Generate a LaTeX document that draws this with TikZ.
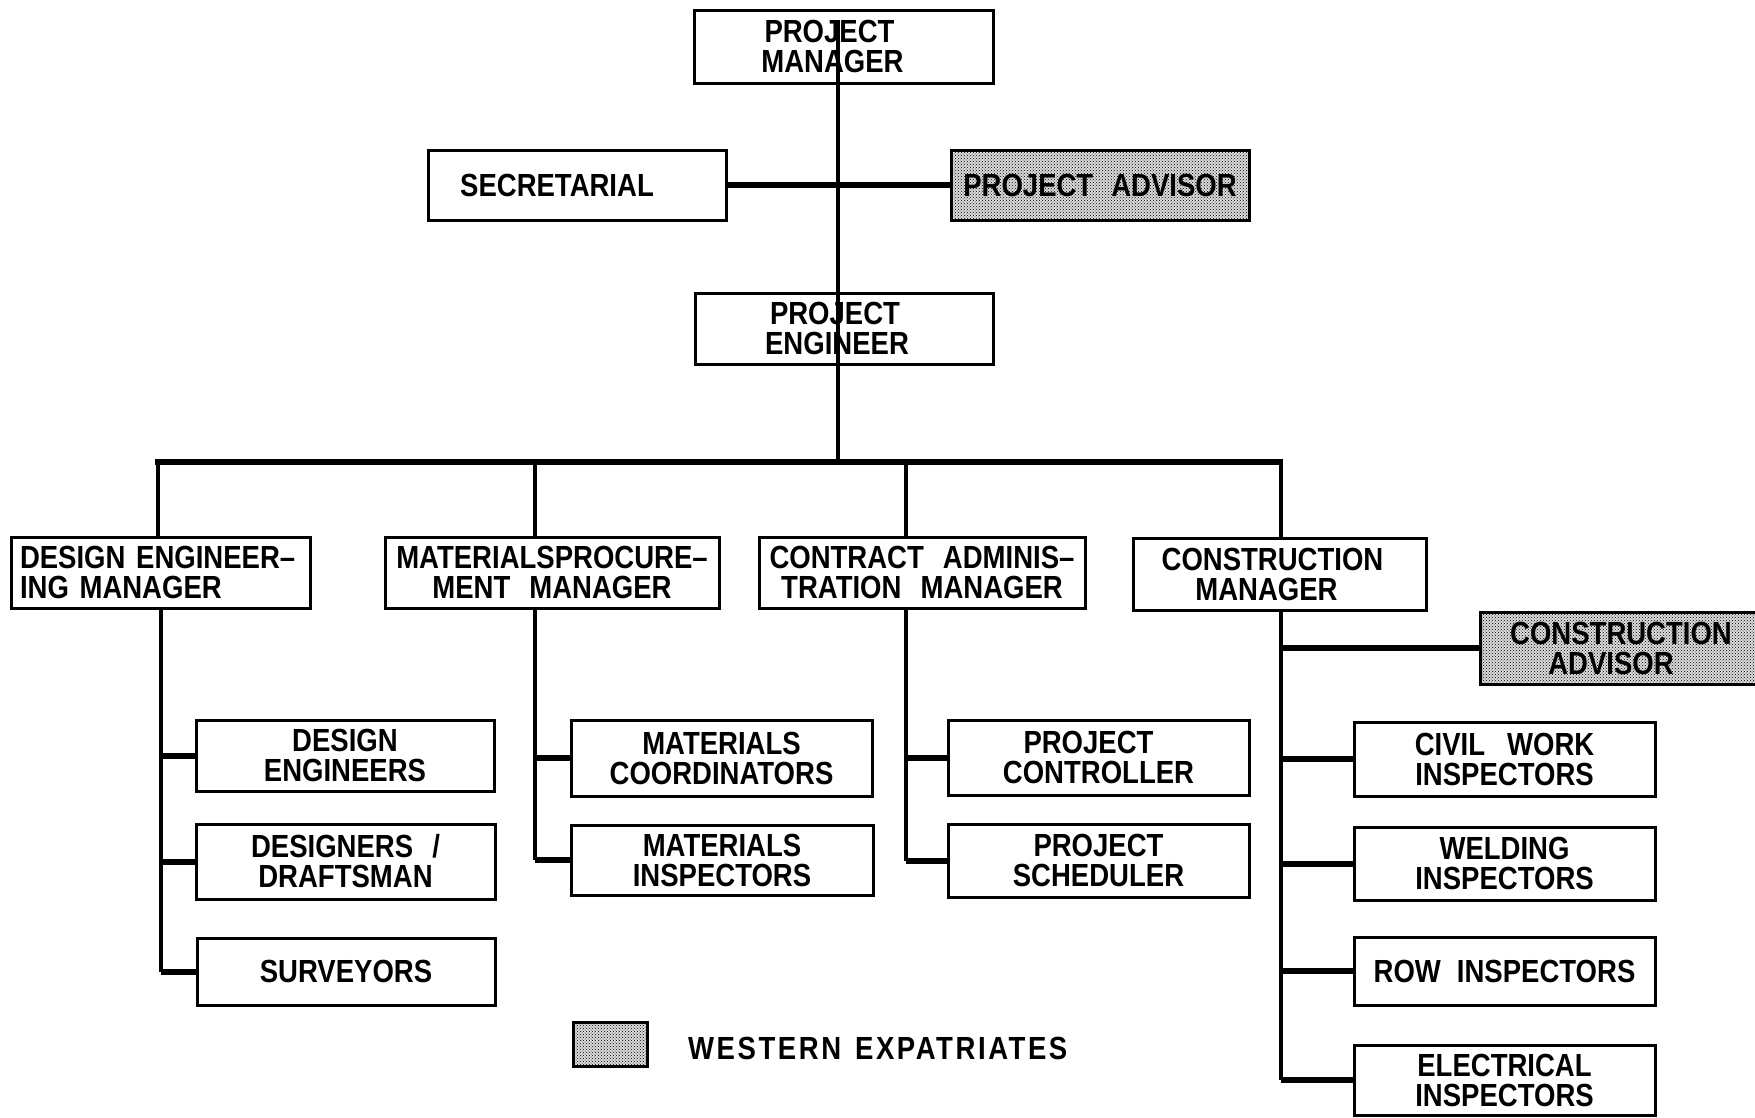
\documentclass[tikz,border=0pt]{standalone}
\usepackage{fontspec}
\setmainfont{Liberation Sans}[FakeStretch=0.86,WordSpace=2.5]
\usetikzlibrary{patterns}
\tikzset{
  box/.style={draw, line width=3pt, inner sep=0pt, align=center,
    font=\bfseries\fontsize{32}{30}\selectfont},
  advbox/.style={box, preaction={fill=gray!28}, pattern=crosshatch dots, pattern color=black},
  link/.style={line width=4pt},
  stub/.style={line width=6pt},
}
\begin{document}
\begin{tikzpicture}[x=1pt,y=-1pt]
\useasboundingbox (0,0) rectangle (1755,1117);
% top
\node[box, minimum width=299pt, minimum height=73pt] (pm) at (843.5,46.5) {PROJECT\hspace*{28pt}\\MANAGER\hspace*{22pt}};
\node[box, minimum width=298pt, minimum height=70pt] (sec) at (577,185) {SECRETARIAL\hspace*{40pt}};
\node[advbox, minimum width=298pt, minimum height=70pt] (adv) at (1100,185) {PROJECT\hspace{18pt}ADVISOR};
\node[box, minimum width=298pt, minimum height=71pt] (pe) at (844,328.5) {PROJECT\hspace*{18pt}\\ENGINEER\hspace*{14pt}};
% managers
\node[box, minimum width=299pt, minimum height=71pt, align=left, text width=281pt] (dem) at (160.5,572.5) {DESIGN ENGINEER--\\ING MANAGER};
\node[box, minimum width=334pt, minimum height=71pt] (mpm) at (552,572.5) {MATERIALSPROCURE--\\MENT MANAGER};
\node[box, minimum width=326pt, minimum height=71pt] (cam) at (922,572.5) {CONTRACT ADMINIS--\\TRATION MANAGER};
\node[box, minimum width=293pt, minimum height=72pt] (cm) at (1279.5,574) {CONSTRUCTION\hspace*{14pt}\\MANAGER\hspace*{26pt}};
\node[advbox, minimum width=282pt, minimum height=72pt] (ca) at (1621,648) {CONSTRUCTION\\ADVISOR\hspace*{20pt}};
% design
\node[box, minimum width=298pt, minimum height=71pt] (de) at (345,755.5) {DESIGN\\ENGINEERS};
\node[box, minimum width=299pt, minimum height=75pt] (dd) at (345.5,861.5) {DESIGNERS /\\DRAFTSMAN};
\node[box, minimum width=298pt, minimum height=67pt] (sv) at (346,971.5) {SURVEYORS};
% materials
\node[box, minimum width=301pt, minimum height=76pt] (mc) at (721.5,758) {MATERIALS\\COORDINATORS};
\node[box, minimum width=302pt, minimum height=70pt] (mi) at (722,860) {MATERIALS\\INSPECTORS};
% contract
\node[box, minimum width=301pt, minimum height=75pt] (pc) at (1098.5,757.5) {PROJECT\hspace*{20pt}\\CONTROLLER};
\node[box, minimum width=301pt, minimum height=73pt] (ps) at (1098.5,860.5) {PROJECT\\SCHEDULER};
% construction
\node[box, minimum width=301pt, minimum height=74pt] (cw) at (1504.5,759) {CIVIL\hspace{22pt}WORK\\INSPECTORS};
\node[box, minimum width=301pt, minimum height=73pt] (wi) at (1504.5,863.5) {WELDING\\INSPECTORS};
\node[box, minimum width=301pt, minimum height=68pt] (ri) at (1504.5,971) {ROW\hspace{16pt}INSPECTORS};
\node[box, minimum width=301pt, minimum height=70pt] (ei) at (1504.5,1080) {ELECTRICAL\\INSPECTORS};
% legend
\node[advbox, minimum width=74pt, minimum height=44pt] (lg) at (610,1044) {};
\node[anchor=west, inner sep=0pt, font=\bfseries\fontsize{32}{30}\selectfont\addfontfeature{LetterSpace=8}] (lt) at (688,1048) {WESTERN\hspace{14pt}EXPATRIATES};
% connectors
\coordinate (ttop) at (838,20);
\coordinate (busL) at (158,462);
\coordinate (busR) at (1280,462);
\coordinate (d1) at (158,462);
\coordinate (d2) at (535,462);
\coordinate (d3) at (906,462);
\coordinate (d4) at (1281,462);
\draw[link] (ttop) -- (ttop |- busL);
\draw[stub] (sec.east) -- (adv.west);
\draw[stub, line cap=rect] (busL) -- (busR);
\draw[link] (d1) -- (d1 |- dem.north);
\draw[link] (d2) -- (d2 |- mpm.north);
\draw[link] (d3) -- (d3 |- cam.north);
\draw[link] (d4) -- (d4 |- cm.north);
% design branch
\draw[link] (dem.south) -- (dem.south |- sv.west);
\draw[stub] (de.west) -- (de.west -| dem.south);
\draw[stub] (dd.west) -- (dd.west -| dem.south);
\draw[stub] (sv.west) -- (sv.west -| dem.south);
% materials branch
\draw[link] (d2 |- mpm.south) -- (d2 |- mi.west);
\draw[stub] (mc.west) -- (mc.west -| d2);
\draw[stub] (mi.west) -- (mi.west -| d2);
% contract branch
\draw[link] (d3 |- cam.south) -- (d3 |- ps.west);
\draw[stub] (pc.west) -- (pc.west -| d3);
\draw[stub] (ps.west) -- (ps.west -| d3);
% construction branch
\draw[link] (d4 |- cm.south) -- (d4 |- ei.west);
\draw[stub] (ca.west) -- (ca.west -| d4);
\draw[stub] (cw.west) -- (cw.west -| d4);
\draw[stub] (wi.west) -- (wi.west -| d4);
\draw[stub] (ri.west) -- (ri.west -| d4);
\draw[stub] (ei.west) -- (ei.west -| d4);
\end{tikzpicture}
\end{document}
